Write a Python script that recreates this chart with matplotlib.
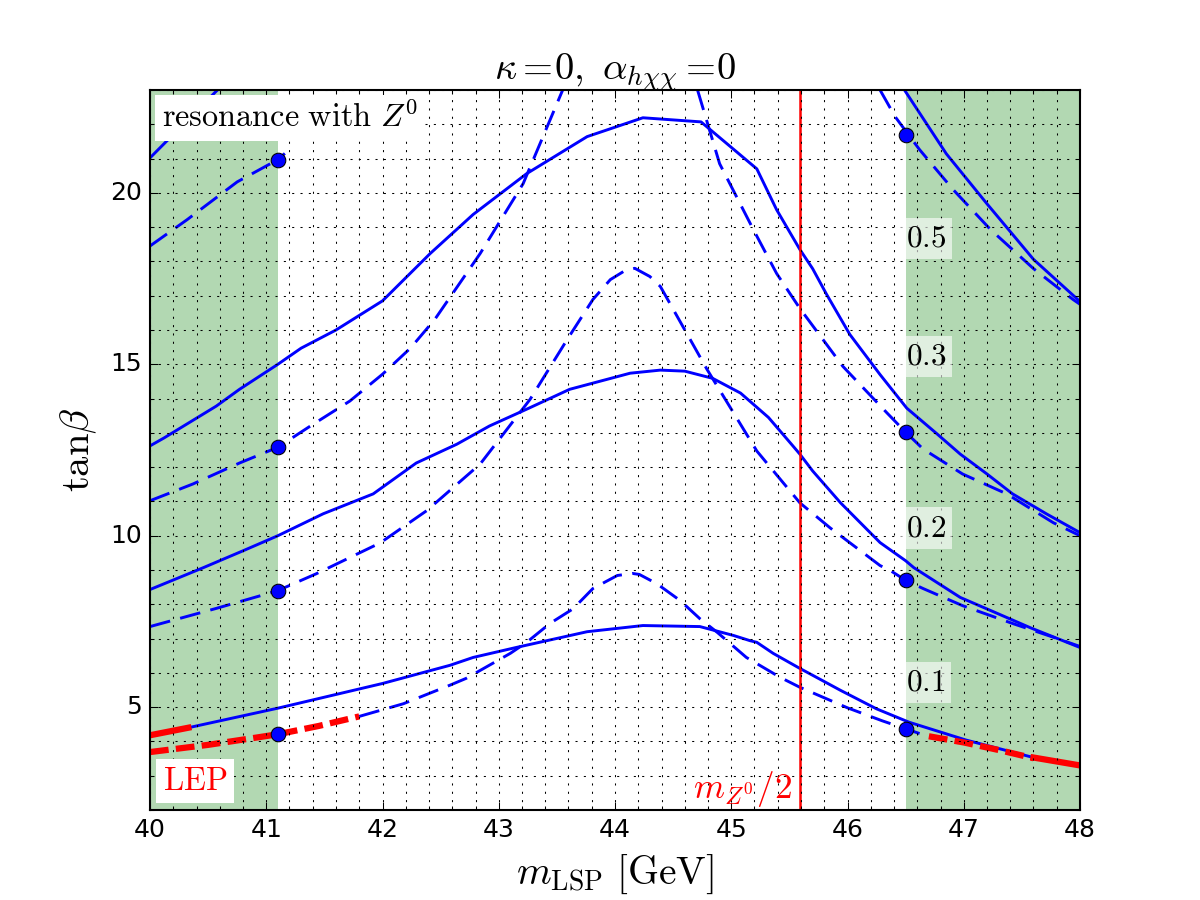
import numpy as np
import matplotlib
matplotlib.use("Agg")
import matplotlib.pyplot as plt
from matplotlib.ticker import MultipleLocator

plt.style.use("classic")
plt.rcParams["mathtext.fontset"] = "cm"
plt.rcParams["lines.scale_dashes"] = False

nan = np.nan

# ---- data: contour levels (solid and dashed variants) ----
levels = ["0.1", "0.2", "0.3", "0.5"]

solid_01_x = [40.0, 40.33, 41.1, 42.0, 42.58, 42.78, 43.15, 43.76, 44.24, 44.73, 45.02, 45.16, 45.22,
              45.36, 45.59, 45.70, 45.94, 46.25, 46.53, 47.02, 47.6, 48.0]
solid_01_y = [4.18, 4.40, 4.97, 5.69, 6.22, 6.45, 6.74, 7.20, 7.38, 7.35, 7.09, 6.94, 6.89,
              6.57, 6.13, 5.93, 5.49, 4.95, 4.56, 4.04, 3.53, 3.30]

dashed_01_x = [40.0, 40.5, 40.93, 41.1, 41.45, 41.8, 42.18, 42.58, 42.72, 43.10, 43.24, 43.44, 43.64,
               43.81, 44.02, 44.15, 44.21, 44.36, 44.56, 44.73, 44.88, 45.13, 45.42, 45.59, 46.0,
               46.3, 46.62, 46.7, 47.0, 47.3, 47.6]
dashed_01_y = [3.69, 3.90, 4.12, 4.21, 4.45, 4.73, 5.10, 5.64, 5.84, 6.57, 6.89, 7.44, 7.87,
               8.46, 8.84, 8.90, 8.87, 8.60, 8.11, 7.58, 7.18, 6.45, 5.87, 5.58, 4.98,
               4.60, 4.23, 4.15, 3.97, 3.75, 3.51]

solid_02_x = [40.0, 40.46, 40.8, 41.1, 41.49, 41.92, 42.29, 42.64, 42.92, 43.24, 43.61, 44.13, 44.39,
              44.60, 44.84, 45.08, 45.32, 45.53, 45.59, 45.70, 45.94, 46.28, 46.5, 46.57, 46.97,
              47.23, 47.57, 48.0]
solid_02_y = [8.43, 9.07, 9.56, 10.0, 10.64, 11.22, 12.12, 12.67, 13.2, 13.69, 14.27, 14.74, 14.83,
              14.80, 14.59, 14.16, 13.45, 12.62, 12.38, 11.89, 10.96, 9.80, 9.27, 9.07, 8.20,
              7.82, 7.32, 6.74]

dashed_02_x = [40.0, 40.57, 40.95, 41.1, 41.43, 41.98, 42.38, 42.84, 43.27, 43.59, 43.81, 43.96, 44.08,
               44.17, 44.3, 44.39, 44.79, 45.13, 45.22, 45.59, 45.85, 46.28, 46.37, 46.5, 46.65,
               46.99, 47.42, 47.77, 48.0]
dashed_02_y = [7.35, 7.88, 8.25, 8.40, 8.89, 9.79, 10.73, 12.09, 13.98, 15.73, 16.89, 17.47, 17.72,
               17.80, 17.56, 17.27, 14.86, 12.97, 12.47, 10.96, 10.23, 9.13, 8.98, 8.70, 8.46,
               7.96, 7.44, 7.04, 6.77]

solid_03_x = [40.0, 40.12, 40.57, 40.77, 41.1, 41.3, 41.6, 42.0, 42.41, 42.78, 43.24, 43.76, 44.24,
              44.74, 45.22, 45.39, 45.59, 45.70, 45.82, 46.02, 46.28, 46.51, 46.77, 46.97, 47.2,
              47.42, 47.71, 48.0]
solid_03_y = [12.62, 12.85, 13.78, 14.27, 15.0, 15.47, 16.0, 16.85, 18.23, 19.37, 20.56, 21.64, 22.19,
              22.07, 20.70, 19.51, 18.35, 17.79, 17.04, 15.87, 14.70, 13.72, 12.97, 12.38, 11.80,
              11.22, 10.64, 10.09]

dashed_03_x = [40.0, 40.37, 40.77, 41.1, 41.38, 41.72, 42.0, 42.24, 42.45, 42.84, 43.21, 43.55, nan,
               44.71, 44.90, 45.19, 45.39, 45.59, 45.96, 46.34, 46.5, 46.65, 46.99, 47.37, 47.77, 48.0]
dashed_03_y = [11.02, 11.51, 12.12, 12.58, 13.2, 13.93, 14.71, 15.47, 16.31, 18.23, 20.27, 23.0, nan,
               23.0, 20.85, 18.93, 17.65, 16.63, 14.94, 13.58, 13.02, 12.53, 11.80, 11.22, 10.38, 10.0]

solid_05_x = [40.0, 40.58, nan, 46.49, 46.85, 47.2, 47.6, 48.0]
solid_05_y = [21.02, 23.0, nan, 23.0, 21.14, 19.68, 18.06, 16.83]

dashed_05_x = [40.0, 40.32, 40.75, 41.1, 41.16, nan, 46.28, 46.41, 46.62, 46.91, 47.23, 47.6, 47.94, 48.0]
dashed_05_y = [18.45, 19.22, 20.32, 20.97, 21.15, nan, 23.0, 22.22, 21.26, 20.09, 18.93, 17.79, 16.89, 16.75]

# benchmark points
dots_left_x = [41.1, 41.1, 41.1, 41.1]
dots_left_y = [4.21, 8.40, 12.58, 20.97]
dots_right_x = [46.5, 46.5, 46.5, 46.5]
dots_right_y = [4.36, 8.70, 13.02, 21.69]

# level label positions
label_x = [46.5, 46.5, 46.5, 46.5]
label_y = [5.72, 10.23, 15.23, 18.67]

# shaded Z0-resonance regions and m_Z/2
shade_left = (40.0, 41.1)
shade_right = (46.5, 48.0)
mz_half = 45.59

# LEP exclusion boundaries (x) on the 0.1 curves
lep_solid_left_end = 40.33
lep_solid_right_start = 47.6
lep_dashed_left_end = 41.8
lep_dashed_right_start = 46.7

blue = (0, 0, 1)
red = (1, 0, 0)
LW = 1.4
dash_blue = (10, 5)
dash_red = (9, 3.5)

fig = plt.figure(figsize=(8, 6), dpi=150)
ax = fig.add_subplot(111)

ax.axvspan(*shade_left, color="green", alpha=0.3, lw=0, zorder=0)
ax.axvspan(*shade_right, color="green", alpha=0.3, lw=0, zorder=0)

def arr(a):
    return np.asarray(a, dtype=float)

# 0.1 curves with LEP portions in red
sx, sy = arr(solid_01_x), arr(solid_01_y)
m = (sx >= lep_solid_left_end) & (sx <= lep_solid_right_start)
ax.plot(sx[m], sy[m], "-", color=blue, lw=LW)
m = sx <= lep_solid_left_end
ax.plot(sx[m], sy[m], "-", color=red, lw=3)
m = sx >= lep_solid_right_start
ax.plot(sx[m], sy[m], "-", color=red, lw=3)

dx, dy = arr(dashed_01_x), arr(dashed_01_y)
m = (dx >= lep_dashed_left_end) & (dx < lep_dashed_right_start - 0.05)
ax.plot(dx[m], dy[m], "--", color=blue, lw=LW, dashes=dash_blue)
m = dx <= lep_dashed_left_end
ax.plot(dx[m], dy[m], "--", color=red, lw=3, dashes=dash_red)
m = dx >= lep_dashed_right_start
ax.plot(dx[m], dy[m], "--", color=red, lw=3, dashes=dash_red)

for xs, ys in [(solid_02_x, solid_02_y), (solid_03_x, solid_03_y), (solid_05_x, solid_05_y)]:
    ax.plot(xs, ys, "-", color=blue, lw=LW)
for xs, ys in [(dashed_02_x, dashed_02_y), (dashed_03_x, dashed_03_y), (dashed_05_x, dashed_05_y)]:
    ax.plot(xs, ys, "--", color=blue, lw=LW, dashes=dash_blue)

ax.axvline(mz_half, color=red, lw=1.2)

ax.plot(dots_left_x, dots_left_y, "o", color=blue, ms=7, mec="k", mew=0.5, zorder=5, clip_on=False)
ax.plot(dots_right_x, dots_right_y, "o", color=blue, ms=7, mec="k", mew=0.5, zorder=5, clip_on=False)

for lx, ly, lab in zip(label_x, label_y, levels):
    ax.text(lx, ly, r"$%s$" % lab, fontsize=15, ha="left", va="center",
            bbox=dict(boxstyle="square,pad=0.2", fc=(1, 1, 1, 0.6), ec="none"), zorder=6)

ax.text(40.1, 22.18, r"$\mathrm{resonance\ with}\ Z^0$", fontsize=15.5, ha="left", va="center",
        bbox=dict(boxstyle="square,pad=0.2", fc="white", ec="none"), zorder=6)
ax.text(40.11, 2.84, r"$\mathrm{LEP}$", color=red, fontsize=15.5, ha="left", va="center",
        bbox=dict(boxstyle="square,pad=0.2", fc="white", ec="none"), zorder=6)
ax.text(45.52, 2.62, r"$m_{Z^0}/2$", color=red, fontsize=17, ha="right", va="center", zorder=6)

ax.set_xlim(40, 48)
ax.set_ylim(2, 23)
ax.xaxis.set_major_locator(MultipleLocator(1))
ax.xaxis.set_minor_locator(MultipleLocator(0.2))
ax.yaxis.set_major_locator(MultipleLocator(5))
ax.yaxis.set_minor_locator(MultipleLocator(1))
ax.grid(True, which="both", color="k", linestyle=":", lw=0.5)
ax.set_axisbelow(False)

ax.set_xlabel(r"$m_{\rm LSP}\ [\mathrm{GeV}]$", fontsize=19)
ax.set_ylabel(r"$\tan\!\beta$", fontsize=19.5)
ax.set_title(r"$\kappa\,\!=\!0,\ \alpha_{h\chi\chi}\,\!=\!0$", fontsize=18.5)

fig.savefig("out.png", dpi=150)
